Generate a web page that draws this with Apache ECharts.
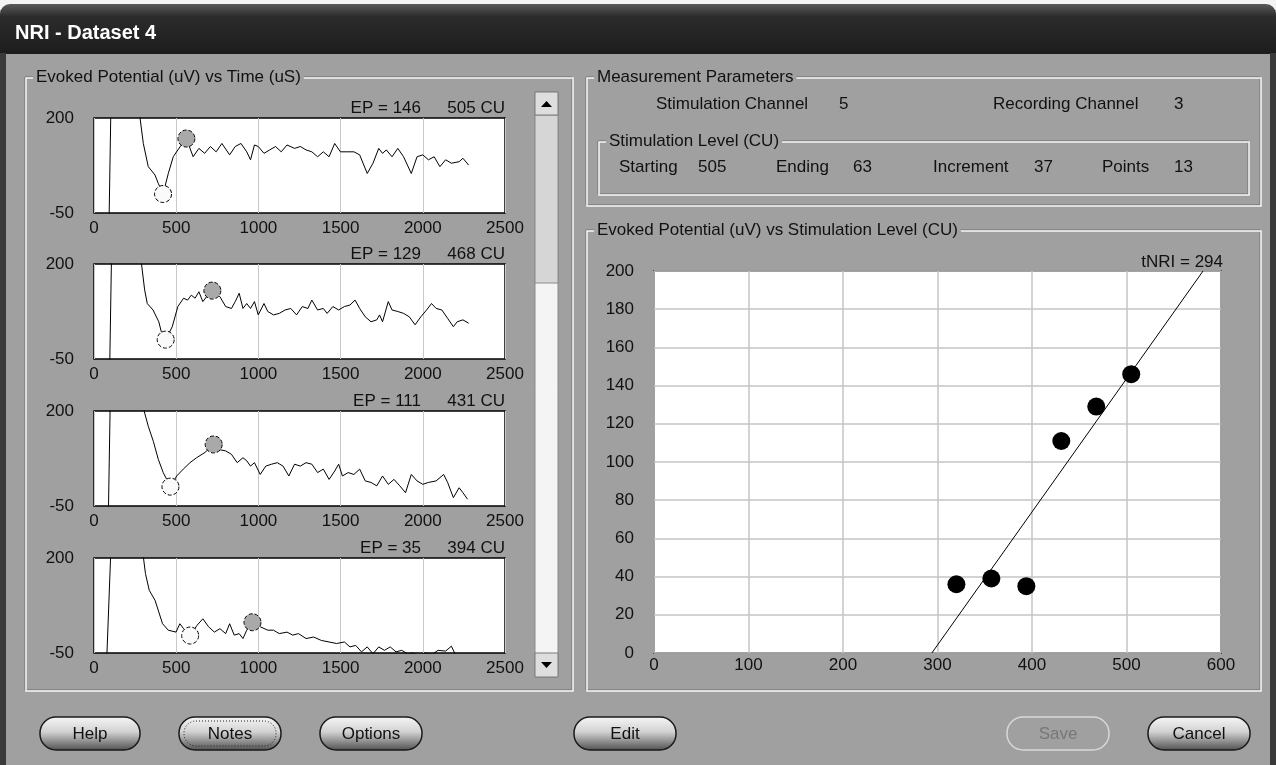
<!DOCTYPE html>
<html>
<head>
<meta charset="utf-8">
<title>NRI - Dataset 4</title>
<script src="https://cdn.jsdelivr.net/npm/echarts@6/dist/echarts.min.js"></script>
<style>
html, body { margin: 0; padding: 0; background: #a0a0a0; overflow: hidden; }
#app { width: 1276px; height: 765px; }
</style>
</head>
<body>
<div id="app"></div>
<script>
// stimulation levels (CU) and EP amplitude (uV)
var levels = [505, 468, 431, 394, 357, 320];
var epValues = [146, 129, 111, 35, 39, 36];
// fitted line, crosses 0 at tNRI
var tNRI = 294;
var fitX = [294, 581];
var fitY = [0, 200];

// measurement parameters
var stimChannel = 5;
var recChannel = 3;
var startLevel = 505;
var endLevel = 63;
var increment = 37;
var points = 13;

// N1 (white) and P2 (grey) picks of the four sweeps on the left
var n1Points = [[420, 0], [436, 1], [465, 1], [585, -4]];
var p2Points = [[562, 146], [720, 130], [728, 112], [964, 31]];

// sweeps: time (uS), potential (uV)
var trace1 = [[92,-60],[104,260],[275,260],[280,200],[300,133],[330,72],[371,50],[391,28],[420,0],[452,54],[482,98],[523,124],[562,146],
  [603,98],[638,120],[673,107],[708,125],[743,111],[778,133],[825,103],[859,125],[894,133],[929,111],[952,90],[976,129],[999,125],
  [1034,107],[1069,116],[1104,125],[1139,111],[1174,129],[1220,120],[1255,125],[1290,116],[1325,111],[1360,98],[1395,111],[1430,98],
  [1464,133],[1499,111],[1534,111],[1581,111],[1616,103],[1662,54],[1697,81],[1732,120],[1755,107],[1778,116],[1813,98],[1848,120],
  [1883,98],[1930,54],[1965,98],[2000,103],[2034,90],[2069,98],[2104,72],[2139,90],[2174,81],[2221,85],[2244,94],[2279,76]];
var trace2 = [[96,-60],[108,260],[283,260],[289,200],[308,132],[324,96],[359,79],[394,48],[417,9],[436,1],[476,35],[510,88],[545,110],
  [569,105],[592,118],[615,110],[638,127],[662,101],[685,114],[720,130],[766,114],[801,88],[836,83],[859,101],[883,123],[906,83],
  [929,96],[952,83],[976,101],[999,66],[1034,96],[1057,75],[1092,66],[1127,70],[1162,79],[1197,83],[1232,66],[1267,88],[1301,83],
  [1325,105],[1360,79],[1395,83],[1418,70],[1453,88],[1488,79],[1523,88],[1557,92],[1588,105],[1616,83],[1650,61],[1685,48],[1720,53],
  [1737,66],[1755,48],[1790,101],[1813,79],[1848,75],[1883,70],[1918,61],[1953,40],[1988,61],[2023,79],[2053,96],[2081,83],[2116,79],
  [2151,57],[2186,35],[2209,48],[2244,53],[2279,44]];
var trace3 = [[88,-60],[100,260],[300,260],[305,200],[330,160],[361,120],[391,73],[421,38],[465,1],[503,29],[543,47],[584,64],[624,77],
  [675,91],[728,112],[766,98],[801,95],[836,86],[871,64],[906,77],[929,69],[952,55],[976,64],[1011,33],[1045,55],[1080,60],[1115,64],
  [1150,55],[1185,29],[1220,60],[1255,55],[1290,64],[1325,60],[1360,38],[1395,47],[1430,20],[1464,42],[1488,60],[1511,29],[1546,38],
  [1581,33],[1616,47],[1650,16],[1685,12],[1720,3],[1755,29],[1790,7],[1825,20],[1860,3],[1895,-15],[1930,33],[1965,16],[2000,7],
  [2034,12],[2081,16],[2127,33],[2151,12],[2186,-28],[2221,-2],[2244,-15],[2272,-32]];
var trace4 = [[78,-60],[106,260],[296,260],[301,200],[313,159],[336,115],[371,89],[394,58],[417,27],[452,10],[499,5],[522,27],[545,14],
  [585,-4],[627,23],[662,40],[697,19],[732,5],[766,14],[801,1],[825,27],[853,-3],[883,1],[906,-12],[929,10],[964,31],[1011,19],
  [1057,10],[1092,10],[1127,1],[1174,5],[1209,-3],[1244,1],[1290,-12],[1336,-8],[1383,-17],[1430,-21],[1476,-25],[1523,-21],
  [1557,-34],[1592,-30],[1627,-47],[1662,-34],[1697,-52],[1732,-34],[1767,-43],[1802,-34],[1837,-47],[1872,-43],[1907,-52],
  [1941,-50],[1976,-56],[2011,-50],[2058,-53],[2093,-43],[2139,-45],[2174,-32],[2197,-53],[2221,-69]];
var traces = [trace1, trace2, trace3, trace4];

var FONT = '"Liberation Sans", Arial, sans-serif';
var BG = '#a0a0a0';
var smallTops = [118, 264, 411, 558];

function txt(x, y, s, opt) {
  opt = opt || {};
  return {
    type: 'text', x: x, y: y, silent: true, z: opt.z || 10,
    style: {
      text: String(s), fill: opt.color || '#111',
      font: (opt.weight || 'normal') + ' ' + (opt.size || 17) + 'px ' + FONT,
      align: opt.align || 'left', verticalAlign: 'middle',
      textAlign: opt.align || 'left', textVerticalAlign: 'middle',
      backgroundColor: opt.bg, padding: opt.bg ? [0, 3] : 0
    }
  };
}
function box(x, y, w, h, title) {
  return [
    { type: 'rect', silent: true, z: 5, shape: { x: x, y: y, width: w, height: h }, style: { fill: null, stroke: '#6e6e6e', lineWidth: 1 } },
    { type: 'rect', silent: true, z: 5, shape: { x: x + 1, y: y + 1, width: w, height: h }, style: { fill: null, stroke: '#f6f6f6', lineWidth: 1.5 } },
    txt(x + 8, y, title, { bg: BG })
  ];
}
function button(x, w, label, opts) {
  opts = opts || {};
  var y = 717, h = 33;
  var out = [{
    type: 'rect', silent: true, z: 5, shape: { x: x, y: y, width: w, height: h, r: 16 },
    style: {
      fill: opts.disabled ? BG : { type: 'linear', x: 0, y: 0, x2: 0, y2: 1, colorStops: [
        { offset: 0, color: '#f7f7f7' }, { offset: 0.45, color: '#d2d2d2' }, { offset: 1, color: '#4e4e4e' }] },
      stroke: opts.disabled ? '#d8d8d8' : '#1a1a1a', lineWidth: 1.5
    }
  }];
  if (opts.focus) {
    out.push({ type: 'rect', silent: true, z: 6, shape: { x: x + 5, y: y + 4, width: w - 10, height: h - 8, r: 12 },
      style: { fill: null, stroke: '#222', lineWidth: 1, lineDash: [1, 2] } });
  }
  out.push(txt(x + w / 2, y + h / 2 + 1, label, { align: 'center', color: opts.disabled ? '#777' : '#111' }));
  return out;
}

var graphic = [];
// window chrome
graphic.push({ type: 'rect', silent: true, z: 1, shape: { x: 0, y: 0, width: 1276, height: 10 }, style: { fill: '#f4f4f4' } });
graphic.push({ type: 'rect', silent: true, z: 2, shape: { x: 0, y: 4, width: 1276, height: 50, r: [10, 10, 0, 0] },
  style: { fill: { type: 'linear', x: 0, y: 0, x2: 0, y2: 1, colorStops: [
    { offset: 0, color: '#5a5a5a' }, { offset: 0.25, color: '#2c2c2c' }, { offset: 1, color: '#1c1c1c' }] } } });
graphic.push({ type: 'rect', silent: true, z: 2, shape: { x: 0, y: 53, width: 6, height: 712 }, style: { fill: '#3a3a3a' } });
graphic.push({ type: 'rect', silent: true, z: 2, shape: { x: 1270, y: 53, width: 6, height: 712 }, style: { fill: '#3a3a3a' } });
graphic.push(txt(15, 33, 'NRI - Dataset 4', { color: '#fff', weight: 'bold', size: 20 }));

// group boxes
graphic = graphic.concat(box(25, 77, 547, 613, 'Evoked Potential (uV) vs Time (uS)'));
graphic = graphic.concat(box(586, 77, 674, 128, 'Measurement Parameters'));
graphic = graphic.concat(box(598, 141, 650, 53, 'Stimulation Level (CU)'));
graphic = graphic.concat(box(586, 230, 674, 460, 'Evoked Potential (uV) vs Stimulation Level (CU)'));

// measurement parameters
graphic.push(txt(656, 104, 'Stimulation Channel'));
graphic.push(txt(839, 104, stimChannel));
graphic.push(txt(993, 104, 'Recording Channel'));
graphic.push(txt(1174, 104, recChannel));
graphic.push(txt(619, 167, 'Starting'));
graphic.push(txt(698, 167, startLevel));
graphic.push(txt(776, 167, 'Ending'));
graphic.push(txt(853, 167, endLevel));
graphic.push(txt(933, 167, 'Increment'));
graphic.push(txt(1034, 167, increment));
graphic.push(txt(1102, 167, 'Points'));
graphic.push(txt(1174, 167, points));

// sweep captions
for (var k = 0; k < 4; k++) {
  graphic.push(txt(421, smallTops[k] - 10, 'EP = ' + epValues[k], { align: 'right' }));
  graphic.push(txt(505, smallTops[k] - 10, levels[k] + ' CU', { align: 'right' }));
}
graphic.push(txt(1223, 262, 'tNRI = ' + tNRI, { align: 'right' }));

// scrollbar
graphic.push({ type: 'rect', silent: true, z: 5, shape: { x: 535, y: 92, width: 23, height: 585 }, style: { fill: '#f4f4f4', stroke: '#8a8a8a' } });
graphic.push({ type: 'rect', silent: true, z: 6, shape: { x: 535, y: 115, width: 23, height: 168 }, style: { fill: '#d6d6d6', stroke: '#8a8a8a' } });
graphic.push({ type: 'rect', silent: true, z: 6, shape: { x: 535, y: 92, width: 23, height: 23 }, style: { fill: '#dedede', stroke: '#7a7a7a' } });
graphic.push({ type: 'rect', silent: true, z: 6, shape: { x: 535, y: 653, width: 23, height: 24 }, style: { fill: '#dedede', stroke: '#7a7a7a' } });
graphic.push({ type: 'polygon', silent: true, z: 7, shape: { points: [[541, 107], [552, 107], [546.5, 101]] }, style: { fill: '#000' } });
graphic.push({ type: 'polygon', silent: true, z: 7, shape: { points: [[541, 662], [552, 662], [546.5, 668]] }, style: { fill: '#000' } });

// buttons
graphic = graphic.concat(button(40, 100, 'Help'));
graphic = graphic.concat(button(179, 102, 'Notes', { focus: true }));
graphic = graphic.concat(button(320, 102, 'Options'));
graphic = graphic.concat(button(574, 102, 'Edit'));
graphic = graphic.concat(button(1007, 102, 'Save', { disabled: true }));
graphic = graphic.concat(button(1148, 102, 'Cancel'));

var labelStyle = { color: '#111', fontSize: 17, fontFamily: FONT };
var plain = function (v) { return String(v); };
var grids = [], xAxes = [], yAxes = [], series = [];

for (var i = 0; i < 4; i++) {
  grids.push({ left: 94, top: smallTops[i], width: 411, height: 95, show: true, backgroundColor: '#fff',
    borderColor: '#000', borderWidth: 1.5, containLabel: false, outerBoundsMode: 'none' });
  xAxes.push({ type: 'value', gridIndex: i, min: 0, max: 2500, interval: 500,
    axisLine: { show: false }, axisTick: { show: false },
    splitLine: { show: true, lineStyle: { color: '#c8c8c8', width: 1 } },
    axisLabel: Object.assign({ margin: 7, formatter: plain }, labelStyle) });
  yAxes.push({ type: 'value', gridIndex: i, min: -50, max: 200, interval: 50,
    axisLine: { show: false }, axisTick: { show: false }, splitLine: { show: false },
    axisLabel: Object.assign({ margin: 20, formatter: function (v) { return (v === -50 || v === 200) ? String(v) : ''; } }, labelStyle) });
  series.push({ type: 'line', xAxisIndex: i, yAxisIndex: i, data: traces[i], showSymbol: false, clip: true,
    lineStyle: { color: '#000', width: 1 }, animation: false, z: 3 });
  series.push({ type: 'scatter', xAxisIndex: i, yAxisIndex: i, data: [n1Points[i]], symbolSize: 17, animation: false, z: 4,
    itemStyle: { color: '#fafafa', borderColor: '#000', borderWidth: 1, borderType: 'dashed', opacity: 1 } });
  series.push({ type: 'scatter', xAxisIndex: i, yAxisIndex: i, data: [p2Points[i]], symbolSize: 17, animation: false, z: 4,
    itemStyle: { color: '#a9a9a9', borderColor: '#000', borderWidth: 1, borderType: 'dashed', opacity: 1 } });
}

// growth function plot
grids.push({ left: 654, top: 271, width: 567, height: 382, show: true, backgroundColor: '#fff',
  borderColor: '#000', borderWidth: 1.5, containLabel: false, outerBoundsMode: 'none' });
xAxes.push({ type: 'value', gridIndex: 4, min: 0, max: 600, interval: 100,
  axisLine: { show: false }, axisTick: { show: false },
  splitLine: { show: true, lineStyle: { color: '#c4c4c4', width: 1.5 } },
  axisLabel: Object.assign({ margin: 4, formatter: plain }, labelStyle) });
yAxes.push({ type: 'value', gridIndex: 4, min: 0, max: 200, interval: 20,
  axisLine: { show: false }, axisTick: { show: false },
  splitLine: { show: true, lineStyle: { color: '#c4c4c4', width: 1.5 } },
  axisLabel: Object.assign({ margin: 20, formatter: plain }, labelStyle) });
series.push({ type: 'line', xAxisIndex: 4, yAxisIndex: 4, data: fitX.map(function (x, j) { return [x, fitY[j]]; }),
  showSymbol: false, lineStyle: { color: '#000', width: 1 }, animation: false, z: 3 });
series.push({ type: 'scatter', xAxisIndex: 4, yAxisIndex: 4, data: levels.map(function (l, j) { return [l, epValues[j]]; }),
  symbolSize: 18, itemStyle: { color: '#000', opacity: 1 }, animation: false, z: 4 });

var chart = echarts.init(document.getElementById('app'), null, { renderer: 'canvas' });
chart.setOption({
  backgroundColor: BG,
  animation: false,
  textStyle: { fontFamily: FONT },
  grid: grids,
  xAxis: xAxes,
  yAxis: yAxes,
  series: series,
  graphic: graphic
});
</script>
</body>
</html>
